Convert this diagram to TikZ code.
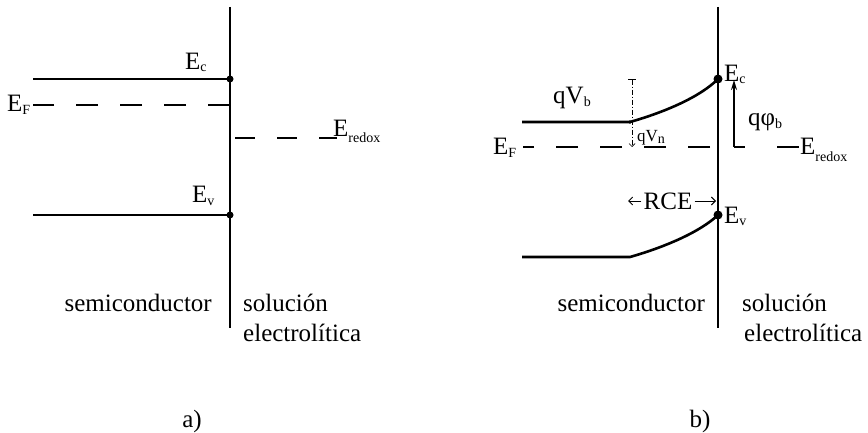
\documentclass[tikz,border=0pt]{standalone}
\usepackage{fontspec}
\setmainfont{Liberation Serif}
\usetikzlibrary{arrows.meta, positioning, calc}
\newcommand{\bandsub}[2][2pt]{\raisebox{-#1}{\fontsize{14}{14}\selectfont #2}}

\begin{document}
\begin{tikzpicture}[x=1pt, y=-1pt,
    band/.style={line width=2.6pt},
    wall/.style={line width=2.2pt},
    level/.style={line width=1.7pt, dash pattern=on 22pt off 22pt},
    lbl/.style={font=\fontsize{25}{30}\selectfont, inner sep=0pt},
    small/.style={font=\fontsize{17}{20}\selectfont, inner sep=0pt}]
    \useasboundingbox (0,0) rectangle (868,433);
    % a) flat bands
    \draw[wall] (230,7) -- (230,328);
    \coordinate (cA) at (230,79);
    \coordinate (vA) at (230,215);
    \draw[band] (33,79) -- (cA);
    \draw[band] (33,215) -- (vA);
    \fill (cA) circle (3.5pt);
    \fill (vA) circle (3.5pt);
    \draw[level] (230,105) -- (33,105);
    \draw[level, dash pattern=on 20pt off 22pt] (235,138) -- (337,138);
    \node[lbl, anchor=base west] (ecA) at (185,70) {E\bandsub{c}};
    \node[lbl, anchor=base west] (efA) at (7,112) {E\bandsub[3pt]{F}};
    \node[lbl, anchor=base west] (erA) at (333,137) {E\bandsub[6pt]{redox}};
    \node[lbl, anchor=base west] (evA) at (192,203) {E\bandsub{v}};
    \node[lbl, anchor=base east] (scA) at (212,311) {semiconductor};
    \node[lbl, anchor=base west] (slA) at (243,311) {solución};
    \node[lbl, anchor=base west] (elA) at (243,341) {electrolítica};
    \node[lbl] (capA) at (192,421) {a)};
    % b) bent bands
    \draw[wall] (718,7) -- (718,328);
    \coordinate (cB) at (718,79);
    \coordinate (vB) at (718,215);
    \draw[band] (522,122) -- (630,122) .. controls (665,112) and (700,97) .. (cB);
    \draw[band] (522,257) -- (630,257) .. controls (665,247) and (700,232) .. (vB);
    \fill (cB) circle (4.5pt);
    \fill (vB) circle (4.5pt);
    \fill (630,122) circle (1.8pt);
    \draw[level] (710,147) -- (523,147);
    \draw[level] (734,147) -- (745,147);
    \draw[level] (777,147) -- (799,147);
    \draw[line width=1.6pt, -{Stealth[length=10pt, width=6pt]}] (734,147) -- (734,80);
    \draw[line width=0.7pt, dash pattern=on 5pt off 2pt on 1pt off 2pt,
      {Bar[width=8pt]}-{Straight Barb[length=3pt]}] (632,79) -- (632,147);
    \node[lbl, anchor=base west] (ecB) at (724,82) {E\bandsub{c}};
    \node[lbl, anchor=base west] (vbB) at (553,104) {qV\bandsub[3pt]{b}};
    \node[lbl, anchor=base west] (qpB) at (748,126) {qφ\bandsub[3pt]{b}};
    \node[lbl, anchor=base west] (efB) at (493,155) {E\bandsub[3pt]{F}};
    \node[lbl, anchor=base west] (erB) at (800,155) {E\bandsub[7pt]{redox}};
    \node[small, anchor=base west] (vnB) at (637,142) {qV\bandsub[2pt]{n}};
    \node[lbl] (rce) at (668,201) {RCE};
    \coordinate (rceL) at (628,201);
    \coordinate (rceR) at (716,201);
    \draw[line width=0.9pt, -{Straight Barb[length=4pt]}] ([xshift=-2pt]rce.west) -- (rceL);
    \draw[line width=0.9pt, -{Straight Barb[length=4pt]}] ([xshift=2pt]rce.east) -- (rceR);
    \node[lbl, anchor=base west] (evB) at (724,223) {E\bandsub{v}};
    \node[lbl, anchor=base east] (scB) at (705,311) {semiconductor};
    \node[lbl, anchor=base west] (slB) at (742,311) {solución};
    \node[lbl, anchor=base west] (elB) at (744,341) {electrolítica};
    \node[lbl] (capB) at (700,421) {b)};
\end{tikzpicture}
\end{document}
